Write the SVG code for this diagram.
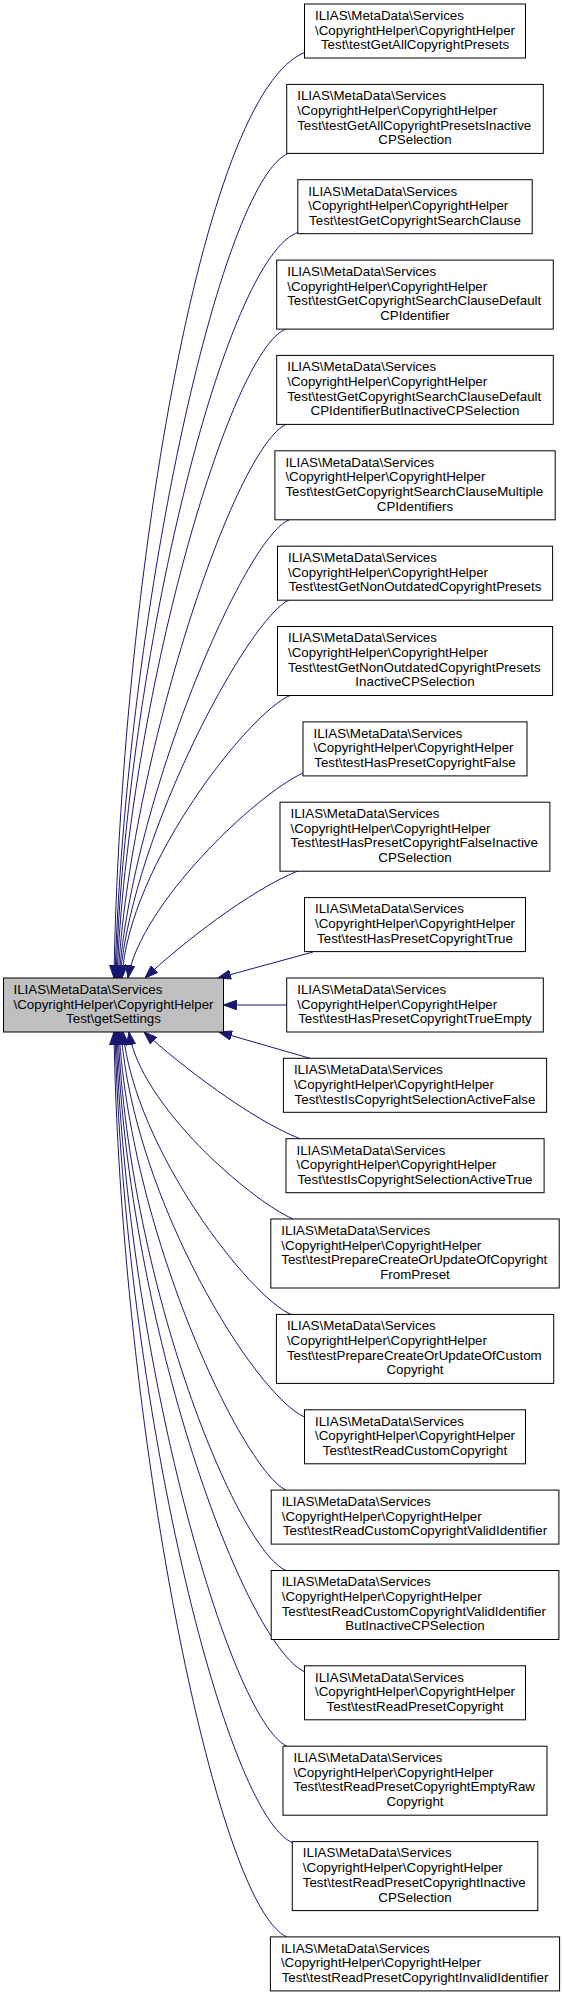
<svg xmlns="http://www.w3.org/2000/svg" width="564" height="1997" viewBox="0 0 564 1997">
<style>
.n rect{fill:#fff;stroke:#000;stroke-width:1}
#main rect{fill:#bfbfbf}
text{font-family:"Liberation Sans",Arial,Helvetica,sans-serif;font-size:13.33px;fill:#000}
.c{text-anchor:middle}
#edges path{fill:none;stroke:#191970;stroke-width:1;marker-end:url(#arr)}
</style>
<defs>
<marker id="arr" viewBox="0 0 13 10" markerWidth="13" markerHeight="10" refX="13" refY="5" orient="auto" markerUnits="userSpaceOnUse">
<path d="M0,0.3 L13,5 L0,9.7 z" fill="#191970" stroke="#191970" stroke-width="1"/>
</marker>
</defs>
<rect width="564" height="1997" fill="#fff"/>
<g id="edges">
<path d="M306,52 C200,90 120,600 114,978"/>
<path d="M289,153 C220,180 125,620 115,978"/>
<path d="M299,232 C225,255 126,660 116,978"/>
<path d="M286,329 C230,350 128,700 117,978"/>
<path d="M287,424 C235,445 130,760 118,978"/>
<path d="M289,520 C245,537 132,800 119,978"/>
<path d="M289,600 C250,617 133,830 120,978"/>
<path d="M290,695.5 C250,712 128,865 122,978"/>
<path d="M303,773 C255,795 140,905 128,978"/>
<path d="M298,871 C250,890 180,945 145,978"/>
<path d="M313,952 L218,978"/>
<path d="M286.7,1005 L223.5,1005"/>
<path d="M310,1058.3 L219,1032"/>
<path d="M300,1138.7 C252,1120 180,1065 144,1032"/>
<path d="M293,1219 C250,1200 140,1105 129,1032"/>
<path d="M291,1314.4 C250,1297 135,1150 123,1032"/>
<path d="M304.5,1417 C255,1395 134,1200 121,1032"/>
<path d="M286,1490 C245,1472 132,1240 119,1032"/>
<path d="M286,1570.5 C238,1550 130,1290 118,1032"/>
<path d="M305,1672 C245,1645 128,1330 117,1032"/>
<path d="M287,1746.2 C230,1720 126,1360 116,1032"/>
<path d="M293,1843 C225,1815 124,1400 115,1032"/>
<path d="M287,1937 C215,1905 120,1420 114,1032"/>
</g>
<g id="main" class="n"><rect x="3.5" y="978" width="220" height="54"/>
<text x="13.5" y="993.8">ILIAS\MetaData\Services</text><text x="13.5" y="1008.5">\CopyrightHelper\CopyrightHelper</text><text class="c" x="113.5" y="1023.2">Test\getSettings</text></g>
<g id="n1" class="n"><rect x="304.5" y="4" width="221" height="54"/>
<text x="315" y="19.8">ILIAS\MetaData\Services</text><text x="315" y="34.5">\CopyrightHelper\CopyrightHelper</text><text class="c" x="415" y="49.2">Test\testGetAllCopyrightPresets</text></g>
<g id="n2" class="n"><rect x="286.7" y="84.4" width="256.6" height="69"/>
<text x="297.2" y="100.2">ILIAS\MetaData\Services</text><text x="297.2" y="114.9">\CopyrightHelper\CopyrightHelper</text><text x="297.2" y="129.6">Test\testGetAllCopyrightPresetsInactive</text><text class="c" x="415" y="144.3">CPSelection</text></g>
<g id="n3" class="n"><rect x="297.8" y="179.7" width="234.4" height="54"/>
<text x="308.3" y="195.5">ILIAS\MetaData\Services</text><text x="308.3" y="210.2">\CopyrightHelper\CopyrightHelper</text><text class="c" x="415" y="224.9">Test\testGetCopyrightSearchClause</text></g>
<g id="n4" class="n"><rect x="276.7" y="260.1" width="276.6" height="69"/>
<text x="287.2" y="275.9">ILIAS\MetaData\Services</text><text x="287.2" y="290.6">\CopyrightHelper\CopyrightHelper</text><text x="287.2" y="305.3">Test\testGetCopyrightSearchClauseDefault</text><text class="c" x="415" y="320">CPIdentifier</text></g>
<g id="n5" class="n"><rect x="276.7" y="355.4" width="276.6" height="69"/>
<text x="287.2" y="371.2">ILIAS\MetaData\Services</text><text x="287.2" y="385.9">\CopyrightHelper\CopyrightHelper</text><text x="287.2" y="400.6">Test\testGetCopyrightSearchClauseDefault</text><text class="c" x="415" y="415.3">CPIdentifierButInactiveCPSelection</text></g>
<g id="n6" class="n"><rect x="274.9" y="450.8" width="280.3" height="69"/>
<text x="285.4" y="466.6">ILIAS\MetaData\Services</text><text x="285.4" y="481.3">\CopyrightHelper\CopyrightHelper</text><text x="285.4" y="496">Test\testGetCopyrightSearchClauseMultiple</text><text class="c" x="415" y="510.7">CPIdentifiers</text></g>
<g id="n7" class="n"><rect x="277.5" y="546.2" width="275.1" height="54"/>
<text x="288" y="562">ILIAS\MetaData\Services</text><text x="288" y="576.7">\CopyrightHelper\CopyrightHelper</text><text class="c" x="415" y="591.4">Test\testGetNonOutdatedCopyrightPresets</text></g>
<g id="n8" class="n"><rect x="277.5" y="626.5" width="275.1" height="69"/>
<text x="288" y="642.3">ILIAS\MetaData\Services</text><text x="288" y="657">\CopyrightHelper\CopyrightHelper</text><text x="288" y="671.7">Test\testGetNonOutdatedCopyrightPresets</text><text class="c" x="415" y="686.4">InactiveCPSelection</text></g>
<g id="n9" class="n"><rect x="303" y="721.9" width="224" height="54"/>
<text x="313.5" y="737.7">ILIAS\MetaData\Services</text><text x="313.5" y="752.4">\CopyrightHelper\CopyrightHelper</text><text class="c" x="415" y="767.1">Test\testHasPresetCopyrightFalse</text></g>
<g id="n10" class="n"><rect x="280" y="802.2" width="269.9" height="69"/>
<text x="290.5" y="818">ILIAS\MetaData\Services</text><text x="290.5" y="832.7">\CopyrightHelper\CopyrightHelper</text><text x="290.5" y="847.4">Test\testHasPresetCopyrightFalseInactive</text><text class="c" x="415" y="862.1">CPSelection</text></g>
<g id="n11" class="n"><rect x="304.5" y="897.6" width="221" height="54"/>
<text x="315" y="913.4">ILIAS\MetaData\Services</text><text x="315" y="928.1">\CopyrightHelper\CopyrightHelper</text><text class="c" x="415" y="942.8">Test\testHasPresetCopyrightTrue</text></g>
<g id="n12" class="n"><rect x="286.7" y="978" width="256.6" height="54"/>
<text x="297.2" y="993.8">ILIAS\MetaData\Services</text><text x="297.2" y="1008.5">\CopyrightHelper\CopyrightHelper</text><text class="c" x="415" y="1023.2">Test\testHasPresetCopyrightTrueEmpty</text></g>
<g id="n13" class="n"><rect x="283.4" y="1058.3" width="263.2" height="54"/>
<text x="293.9" y="1074.1">ILIAS\MetaData\Services</text><text x="293.9" y="1088.8">\CopyrightHelper\CopyrightHelper</text><text class="c" x="415" y="1103.5">Test\testIsCopyrightSelectionActiveFalse</text></g>
<g id="n14" class="n"><rect x="286" y="1138.7" width="258.1" height="54"/>
<text x="296.5" y="1154.5">ILIAS\MetaData\Services</text><text x="296.5" y="1169.2">\CopyrightHelper\CopyrightHelper</text><text class="c" x="415" y="1183.9">Test\testIsCopyrightSelectionActiveTrue</text></g>
<g id="n15" class="n"><rect x="270.8" y="1219" width="288.4" height="69"/>
<text x="281.3" y="1234.8">ILIAS\MetaData\Services</text><text x="281.3" y="1249.5">\CopyrightHelper\CopyrightHelper</text><text x="281.3" y="1264.2">Test\testPrepareCreateOrUpdateOfCopyright</text><text class="c" x="415" y="1278.9">FromPreset</text></g>
<g id="n16" class="n"><rect x="276.4" y="1314.4" width="277.3" height="69"/>
<text x="286.9" y="1330.2">ILIAS\MetaData\Services</text><text x="286.9" y="1344.9">\CopyrightHelper\CopyrightHelper</text><text x="286.9" y="1359.6">Test\testPrepareCreateOrUpdateOfCustom</text><text class="c" x="415" y="1374.3">Copyright</text></g>
<g id="n17" class="n"><rect x="304.5" y="1409.8" width="221" height="54"/>
<text x="315" y="1425.6">ILIAS\MetaData\Services</text><text x="315" y="1440.3">\CopyrightHelper\CopyrightHelper</text><text class="c" x="415" y="1455">Test\testReadCustomCopyright</text></g>
<g id="n18" class="n"><rect x="271.2" y="1490.1" width="287.7" height="54"/>
<text x="281.7" y="1505.9">ILIAS\MetaData\Services</text><text x="281.7" y="1520.6">\CopyrightHelper\CopyrightHelper</text><text class="c" x="415" y="1535.3">Test\testReadCustomCopyrightValidIdentifier</text></g>
<g id="n19" class="n"><rect x="271.2" y="1570.5" width="287.7" height="69"/>
<text x="281.7" y="1586.3">ILIAS\MetaData\Services</text><text x="281.7" y="1601">\CopyrightHelper\CopyrightHelper</text><text x="281.7" y="1615.7">Test\testReadCustomCopyrightValidIdentifier</text><text class="c" x="415" y="1630.4">ButInactiveCPSelection</text></g>
<g id="n20" class="n"><rect x="304.5" y="1665.8" width="221" height="54"/>
<text x="315" y="1681.6">ILIAS\MetaData\Services</text><text x="315" y="1696.3">\CopyrightHelper\CopyrightHelper</text><text class="c" x="415" y="1711">Test\testReadPresetCopyright</text></g>
<g id="n21" class="n"><rect x="283" y="1746.2" width="264" height="69"/>
<text x="293.5" y="1762">ILIAS\MetaData\Services</text><text x="293.5" y="1776.7">\CopyrightHelper\CopyrightHelper</text><text x="293.5" y="1791.4">Test\testReadPresetCopyrightEmptyRaw</text><text class="c" x="415" y="1806.1">Copyright</text></g>
<g id="n22" class="n"><rect x="292.3" y="1841.6" width="245.5" height="69"/>
<text x="302.8" y="1857.4">ILIAS\MetaData\Services</text><text x="302.8" y="1872.1">\CopyrightHelper\CopyrightHelper</text><text x="302.8" y="1886.8">Test\testReadPresetCopyrightInactive</text><text class="c" x="415" y="1901.5">CPSelection</text></g>
<g id="n23" class="n"><rect x="270.4" y="1936.9" width="289.2" height="54"/>
<text x="280.9" y="1952.7">ILIAS\MetaData\Services</text><text x="280.9" y="1967.4">\CopyrightHelper\CopyrightHelper</text><text class="c" x="415" y="1982.1">Test\testReadPresetCopyrightInvalidIdentifier</text></g>
</svg>
